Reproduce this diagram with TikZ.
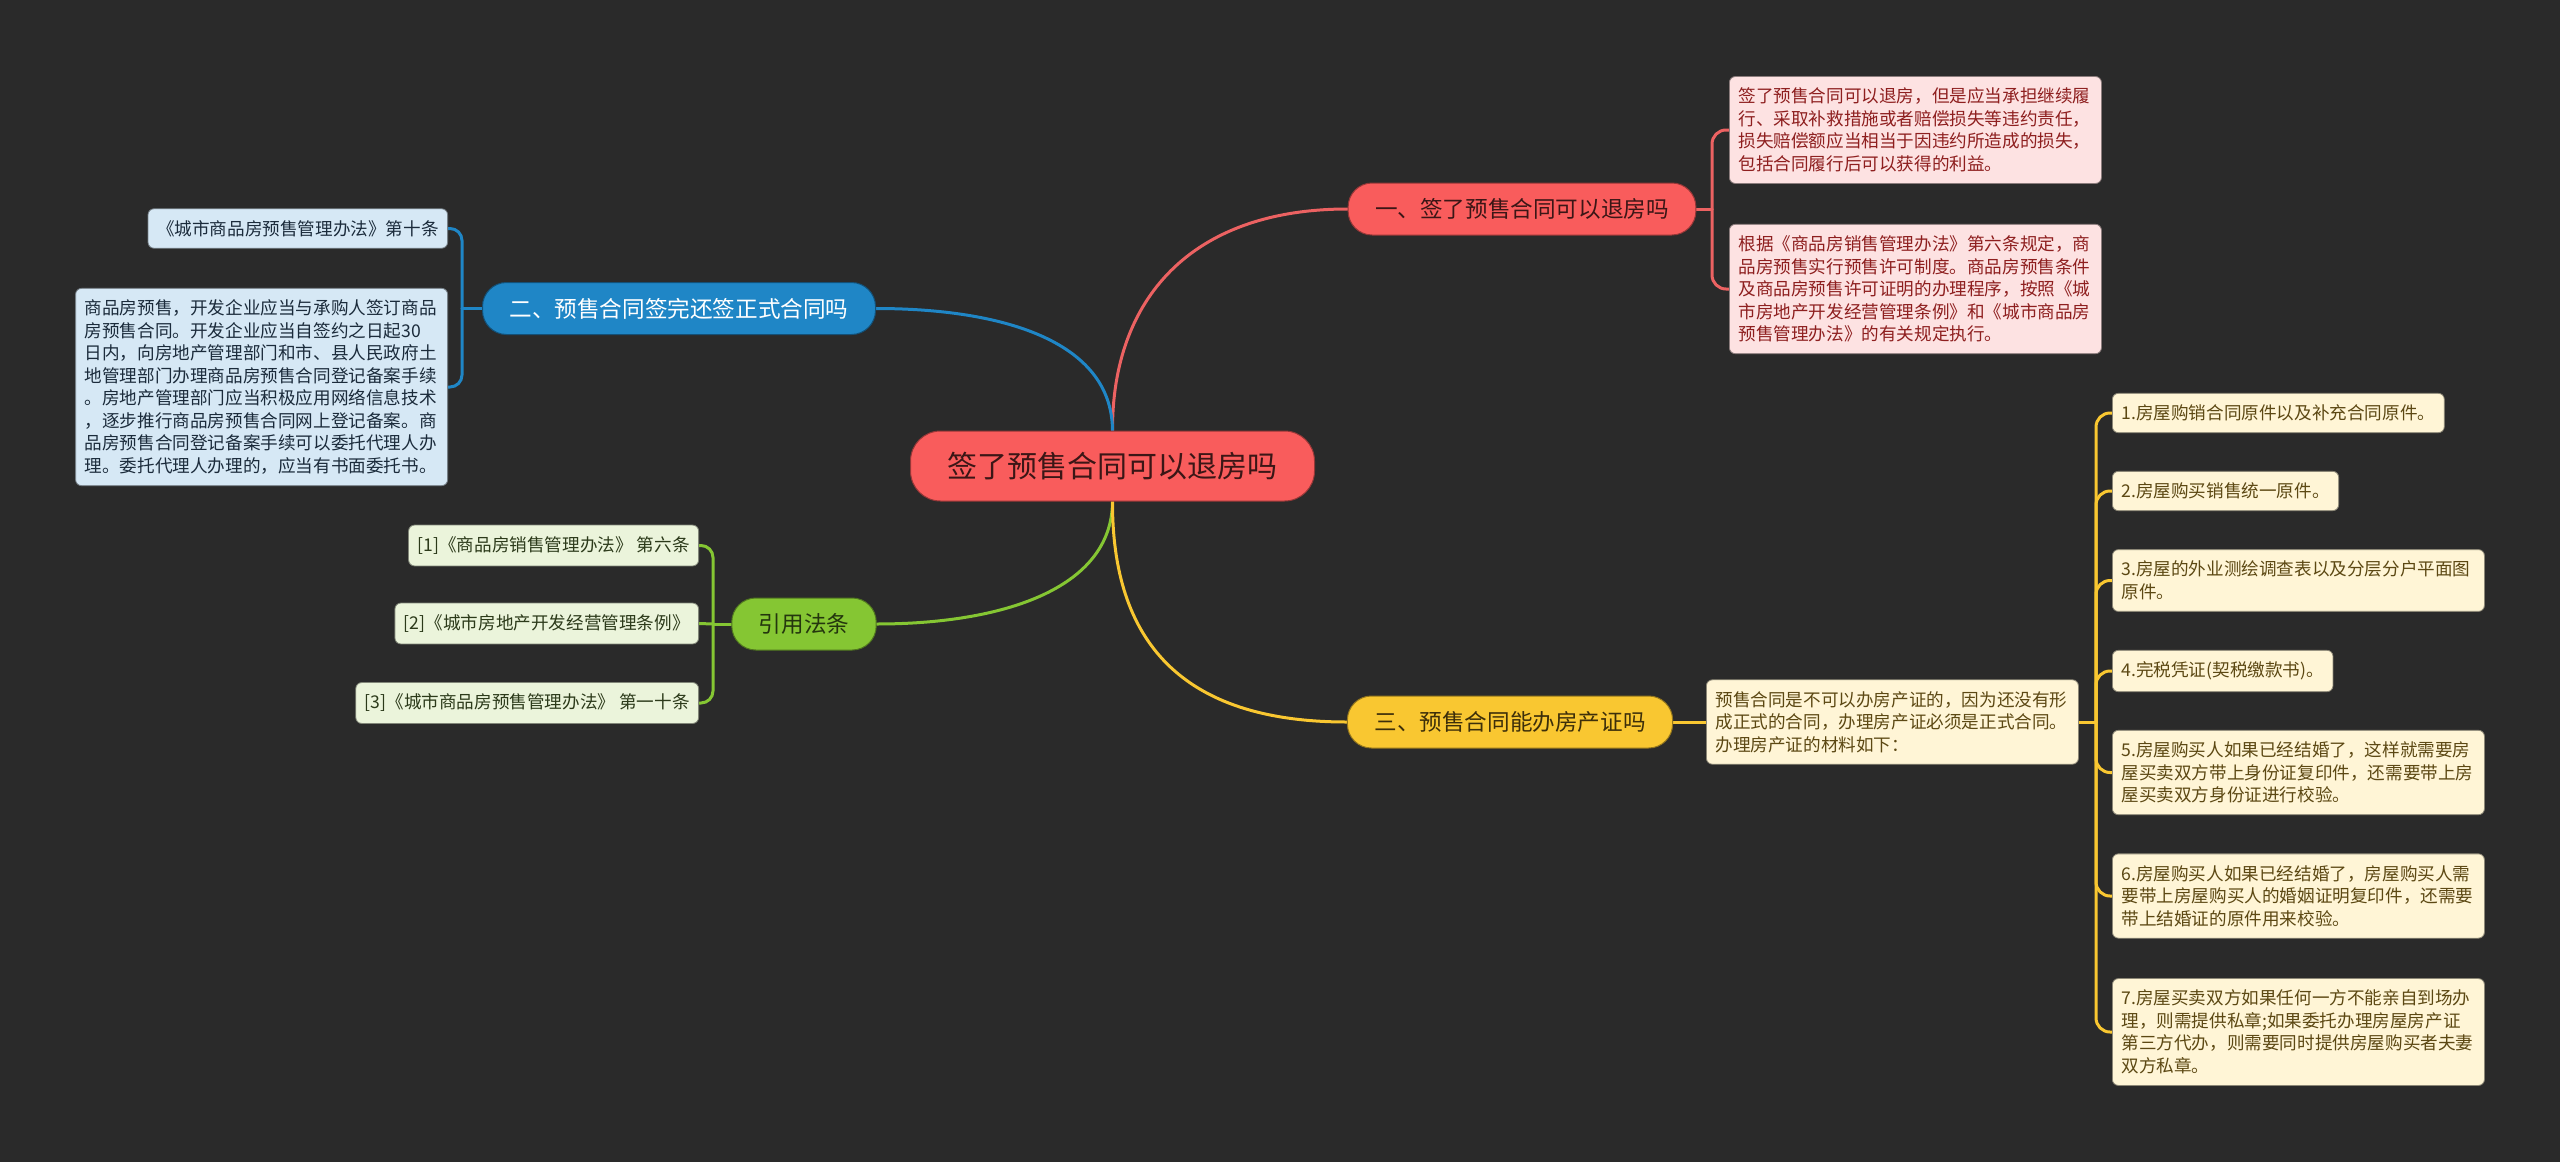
\documentclass[tikz,border=0pt]{standalone}
\usepackage{fontspec}
\setmainfont{Noto Sans CJK SC}
\definecolor{bgc}{HTML}{2A2A2A}
\definecolor{cred}{HTML}{F95C5C}
\definecolor{rline}{HTML}{EC6262}
\definecolor{rtext}{HTML}{3B1616}
\definecolor{rleaf}{HTML}{FDE2E2}
\definecolor{rleaft}{HTML}{8E1F1F}
\definecolor{cblue}{HTML}{1F86C6}
\definecolor{bleaf}{HTML}{D6E8F5}
\definecolor{bleaft}{HTML}{1B2B3B}
\definecolor{cgreen}{HTML}{85C633}
\definecolor{gtext}{HTML}{24360E}
\definecolor{gleaf}{HTML}{EBF4DB}
\definecolor{gleaft}{HTML}{2C3A1A}
\definecolor{cyel}{HTML}{F9C731}
\definecolor{ytext}{HTML}{3D2F0A}
\definecolor{yleaf}{HTML}{FFF5D6}
\definecolor{yleaft}{HTML}{5C4813}
\pgfdeclarelayer{bgl}
\pgfdeclarelayer{lines}
\pgfsetlayers{bgl,lines,main}
\tikzset{
  cbox/.style={fill=cred, draw=cred!60!black, line width=1pt, rounded corners=30pt,
    minimum height=70pt, inner xsep=37pt, inner ysep=0pt, text=rtext,
    font=\fontsize{30}{36}\selectfont},
  brbox/.style={rounded corners=24pt, minimum height=52pt, inner xsep=27pt, inner ysep=0pt,
    line width=1pt, font=\fontsize{22.6}{28}\selectfont},
  redbr/.style={brbox, fill=cred, draw=cred!60!black, text=rtext},
  bluebr/.style={brbox, fill=cblue, draw=cblue!60!black, text=white},
  greenbr/.style={brbox, fill=cgreen, draw=cgreen!60!black, text=gtext},
  yelbr/.style={brbox, fill=cyel, draw=cyel!60!black, text=ytext},
  leafbox/.style={rounded corners=6pt, inner xsep=9pt, inner ysep=11.5pt, align=left,
    line width=0.8pt, font=\fontsize{17.6}{22.5}\selectfont},
  widebox/.style={text width=354pt},
  redleaf/.style={leafbox, fill=rleaf, draw=rleaf!55!black, text=rleaft},
  blueleaf/.style={leafbox, fill=bleaf, draw=bleaf!55!black, text=bleaft},
  greenleaf/.style={leafbox, fill=gleaf, draw=gleaf!55!black, text=gleaft},
  yelleaf/.style={leafbox, fill=yleaf, draw=yleaf!55!black, text=yleaft},
  conn/.style={line width=3pt, line cap=round},
  rconn/.style={conn, draw=rline},
  bconn/.style={conn, draw=cblue},
  gconn/.style={conn, draw=cgreen},
  yconn/.style={conn, draw=cyel},
}
\begin{document}
\begin{tikzpicture}[x=1pt,y=-1pt]
\begin{pgfonlayer}{bgl}
\fill[bgc] (0,0) rectangle (2560,1162);
\end{pgfonlayer}
\useasboundingbox (0,0) rectangle (2560,1162);

% centre
\node[cbox] (c) at (1112.5,466) {签了预售合同可以退房吗};

% branch 1
\node[redbr] (b1) at (1522,209) {一、签了预售合同可以退房吗};
\node[redleaf, widebox, anchor=west] (b1a) at (1729,130)
  {签了预售合同可以退房，但是应当承担继续履\\行、采取补救措施或者赔偿损失等违约责任，\\损失赔偿额应当相当于因违约所造成的损失，\\包括合同履行后可以获得的利益。};
\node[redleaf, widebox, anchor=west] (b1b) at (1729,289)
  {根据《商品房销售管理办法》第六条规定，商\\品房预售实行预售许可制度。商品房预售条件\\及商品房预售许可证明的办理程序，按照《城\\市房地产开发经营管理条例》和《城市商品房\\预售管理办法》的有关规定执行。};

% branch 2
\node[bluebr] (b2) at (679,308.5) {二、预售合同签完还签正式合同吗};
\node[blueleaf, anchor=east] (b2a) at (448,228.5) {《城市商品房预售管理办法》第十条};
\node[blueleaf, widebox, anchor=east] (b2b) at (448,387)
  {商品房预售，开发企业应当与承购人签订商品\\房预售合同。开发企业应当自签约之日起30\\日内，向房地产管理部门和市、县人民政府土\\地管理部门办理商品房预售合同登记备案手续\\。房地产管理部门应当积极应用网络信息技术\\，逐步推行商品房预售合同网上登记备案。商\\品房预售合同登记备案手续可以委托代理人办\\理。委托代理人办理的，应当有书面委托书。};

% branch 3
\node[greenbr] (b3) at (804,624) {引用法条};
\node[greenleaf, anchor=east] (b3a) at (699,545.5) {[1]《商品房销售管理办法》 第六条};
\node[greenleaf, anchor=east] (b3b) at (699,623.5) {[2]《城市房地产开发经营管理条例》};
\node[greenleaf, anchor=east] (b3c) at (699,703) {[3]《城市商品房预售管理办法》 第一十条};

% branch 4
\node[yelbr] (b4) at (1510,722) {三、预售合同能办房产证吗};
\node[yelleaf, widebox, anchor=west] (b4m) at (1706,722)
  {预售合同是不可以办房产证的，因为还没有形\\成正式的合同，办理房产证必须是正式合同。\\办理房产证的材料如下：};
\node[yelleaf, anchor=west] (l1) at (2112,413) {1.房屋购销合同原件以及补充合同原件。};
\node[yelleaf, anchor=west] (l2) at (2112,491) {2.房屋购买销售统一原件。};
\node[yelleaf, widebox, anchor=west] (l3) at (2112,580.5) {3.房屋的外业测绘调查表以及分层分户平面图\\原件。};
\node[yelleaf, anchor=west] (l4) at (2112,671) {4.完税凭证(契税缴款书)。};
\node[yelleaf, widebox, anchor=west] (l5) at (2112,772.5)
  {5.房屋购买人如果已经结婚了，这样就需要房\\屋买卖双方带上身份证复印件，还需要带上房\\屋买卖双方身份证进行校验。};
\node[yelleaf, widebox, anchor=west] (l6) at (2112,896)
  {6.房屋购买人如果已经结婚了，房屋购买人需\\要带上房屋购买人的婚姻证明复印件，还需要\\带上结婚证的原件用来校验。};
\node[yelleaf, widebox, anchor=west] (l7) at (2112,1032)
  {7.房屋买卖双方如果任何一方不能亲自到场办\\理，则需提供私章;如果委托办理房屋房产证\\第三方代办，则需要同时提供房屋购买者夫妻\\双方私章。};

\coordinate (j1) at (1712,209);
\coordinate (j2) at (462,308.5);
\coordinate (j3) at (713,624);
\coordinate (j4) at (2096,722);

\begin{pgfonlayer}{lines}
\draw[rconn] (c.north) .. controls (1112,300) and (1190,209) .. (b1.west);
\draw[bconn] (c.north) .. controls (1112,340) and (1000,308.5) .. (b2.east);
\draw[gconn] (c.south) .. controls (1112,590) and (1000,624) .. (b3.east);
\draw[yconn] (c.south) .. controls (1112,640) and (1180,722) .. (b4.west);

\draw[rconn] (b1.east) -- (j1);
\draw[rconn, rounded corners=14pt] (j1) |- (b1a.west);
\draw[rconn, rounded corners=14pt] (j1) |- (b1b.west);

\draw[bconn] (b2.west) -- (j2);
\draw[bconn, rounded corners=12pt] (j2) |- (b2a.east);
\draw[bconn, rounded corners=12pt] (j2) |- (b2b.east);

\draw[gconn] (b3.west) -- (j3);
\draw[gconn, rounded corners=12pt] (j3) |- (b3a.east);
\draw[gconn] (j3) -- (b3b.east);
\draw[gconn, rounded corners=12pt] (j3) |- (b3c.east);

\draw[yconn] (b4.east) -- (b4m.west);
\draw[yconn] (b4m.east) -- (j4);
\foreach \l in {l1,l2,l3,l4,l5,l6,l7}
  \draw[yconn, rounded corners=14pt] (j4) |- (\l.west);
\end{pgfonlayer}
\end{tikzpicture}
\end{document}
